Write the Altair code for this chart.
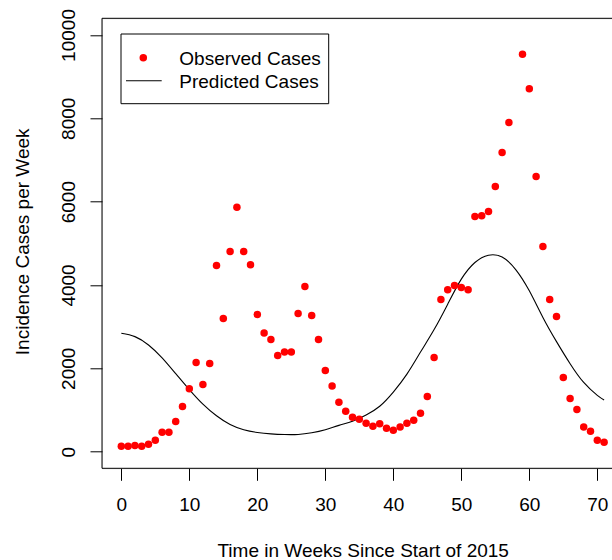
import altair as alt
import pandas as pd

# Observed cases (week 58 absent in the reference)
obs_weeks = list(range(0, 58)) + list(range(59, 72))
obs_cases = [127, 127, 150, 127, 175, 271, 463, 463, 726, 1086,
             1510, 2142, 1614, 2118, 4468, 3197, 4803, 5868, 4803, 4484,
             3293, 2846, 2694, 2310, 2390, 2390, 3317, 3964, 3269, 2694,
             1950, 1574, 1183, 967, 823, 775, 679, 607, 671, 559,
             511, 592, 679, 751, 919, 1326, 2261, 3652, 3885, 3988,
             3940, 3885, 5643, 5660, 5763, 6362, 7177, 7897,
             9537, 8712, 6602, 4924, 3652, 3245, 1782, 1278, 1014, 592,
             487, 271, 223]

# Predicted cases
pred_weeks = [0, 2, 4, 6, 8, 10, 12, 14, 16, 18, 20, 22, 24, 26, 28, 30, 32, 34,
              36, 38, 40, 42, 44, 46, 48, 50, 52, 54, 56, 58, 60, 62, 64,
              66, 68, 70, 71]
pred_cases = [2840, 2760, 2560, 2250, 1870, 1490, 1140, 860, 650, 525, 460, 426,
              410, 412, 452, 525, 630, 730, 880, 1090, 1430, 1860, 2390, 2930,
              3540, 4140, 4540, 4715, 4670, 4370, 3860, 3220, 2640, 2110,
              1660, 1350, 1240]

x_ticks = [0, 10, 20, 30, 40, 50, 60, 70]
y_ticks = [0, 2000, 4000, 6000, 8000, 10000]
legend_labels = ["Observed Cases", "Predicted Cases"]

FONT = "Liberation Sans"
FS = 19
W, H = 510, 450
XMIN, XMAX = -2.84, -2.84 + W / 6.8

obs_df = pd.DataFrame({"week": obs_weeks, "cases": obs_cases})
pred_df = pd.DataFrame({"week": pred_weeks, "cases": pred_cases})

xscale = alt.Scale(domain=[XMIN, XMAX], nice=False, zero=False)
yscale = alt.Scale(domain=[-400, 10400], nice=False, zero=False)

xaxis = alt.Axis(values=x_ticks, title="Time in Weeks Since Start of 2015",
                 format="d",
                 grid=False, domain=False, tickSize=12, tickColor="black",
                 labelFont=FONT, labelFontSize=FS, labelColor="black",
                 labelBaseline="alphabetic", labelPadding=29.7, labelFlush=False,
                 labelOverlap=False,
                 titleFont=FONT, titleFontSize=FS, titleFontWeight="normal",
                 titleColor="black", titleBaseline="alphabetic", titleAlign="center",
                 titleX=260.7, titleY=87.7)
yaxis = alt.Axis(values=y_ticks, title="Incidence Cases per Week",
                 format="d",
                 grid=False, domain=False, tickSize=12, tickColor="black",
                 labelFont=FONT, labelFontSize=FS, labelColor="black",
                 labelAngle=270, labelAlign="center", labelBaseline="alphabetic",
                 labelPadding=15.3, labelFlush=False, labelOverlap=False,
                 titleFont=FONT, titleFontSize=FS, titleFontWeight="normal",
                 titleColor="black", titleAngle=270, titleBaseline="alphabetic",
                 titleAlign="center", titleX=-73.7, titleY=223)

points = alt.Chart(obs_df).mark_circle(color="#ff0000", opacity=1, size=56).encode(
    x=alt.X("week:Q", scale=xscale, axis=xaxis),
    y=alt.Y("cases:Q", scale=yscale, axis=yaxis),
)

line = alt.Chart(pred_df).mark_line(color="black", strokeWidth=1.1,
                                    interpolate="natural", clip=True).encode(
    x=alt.X("week:Q", scale=xscale),
    y=alt.Y("cases:Q", scale=yscale),
)

one = pd.DataFrame({"a": [0]})

# plot frame (R box): top, left, bottom
box_top = alt.Chart(one).mark_rule(color="black", strokeWidth=1).encode(
    x=alt.value(0), x2=alt.value(W + 5), y=alt.value(0))
box_left = alt.Chart(one).mark_rule(color="black", strokeWidth=1).encode(
    x=alt.value(0), y=alt.value(0), y2=alt.value(H))
box_bottom = alt.Chart(one).mark_rule(color="black", strokeWidth=1).encode(
    x=alt.value(0), x2=alt.value(W + 5), y=alt.value(H))

# legend
leg_box = alt.Chart(one).mark_rect(fill="white", stroke="black", strokeWidth=1).encode(
    x=alt.value(19), x2=alt.value(226.7), y=alt.value(15.7), y2=alt.value(85.4))
leg_pt = alt.Chart(one).mark_circle(color="#ff0000", opacity=1, size=56).encode(
    x=alt.value(41.3), y=alt.value(39.4))
leg_line = alt.Chart(one).mark_rule(color="black", strokeWidth=1.1).encode(
    x=alt.value(24), x2=alt.value(59.7), y=alt.value(62.4))
leg_t1 = alt.Chart(pd.DataFrame({"t": [legend_labels[0]]})).mark_text(
    font=FONT, fontSize=FS, align="left", baseline="alphabetic", color="black").encode(
    x=alt.value(77.3), y=alt.value(46.7), text="t:N")
leg_t2 = alt.Chart(pd.DataFrame({"t": [legend_labels[1]]})).mark_text(
    font=FONT, fontSize=FS, align="left", baseline="alphabetic", color="black").encode(
    x=alt.value(77.3), y=alt.value(69.7), text="t:N")

chart = alt.layer(
    line, points, box_top, box_left, box_bottom,
    leg_box, leg_pt, leg_line, leg_t1, leg_t2,
).properties(
    width=W, height=H,
    autosize=alt.AutoSizeParams(type="none"),
    padding={"left": 102, "top": 18.3, "right": 0, "bottom": 91.7},
).configure_view(stroke=None).configure(background="white")

chart.save("out.html", embed_options={"renderer": "svg", "actions": False})
